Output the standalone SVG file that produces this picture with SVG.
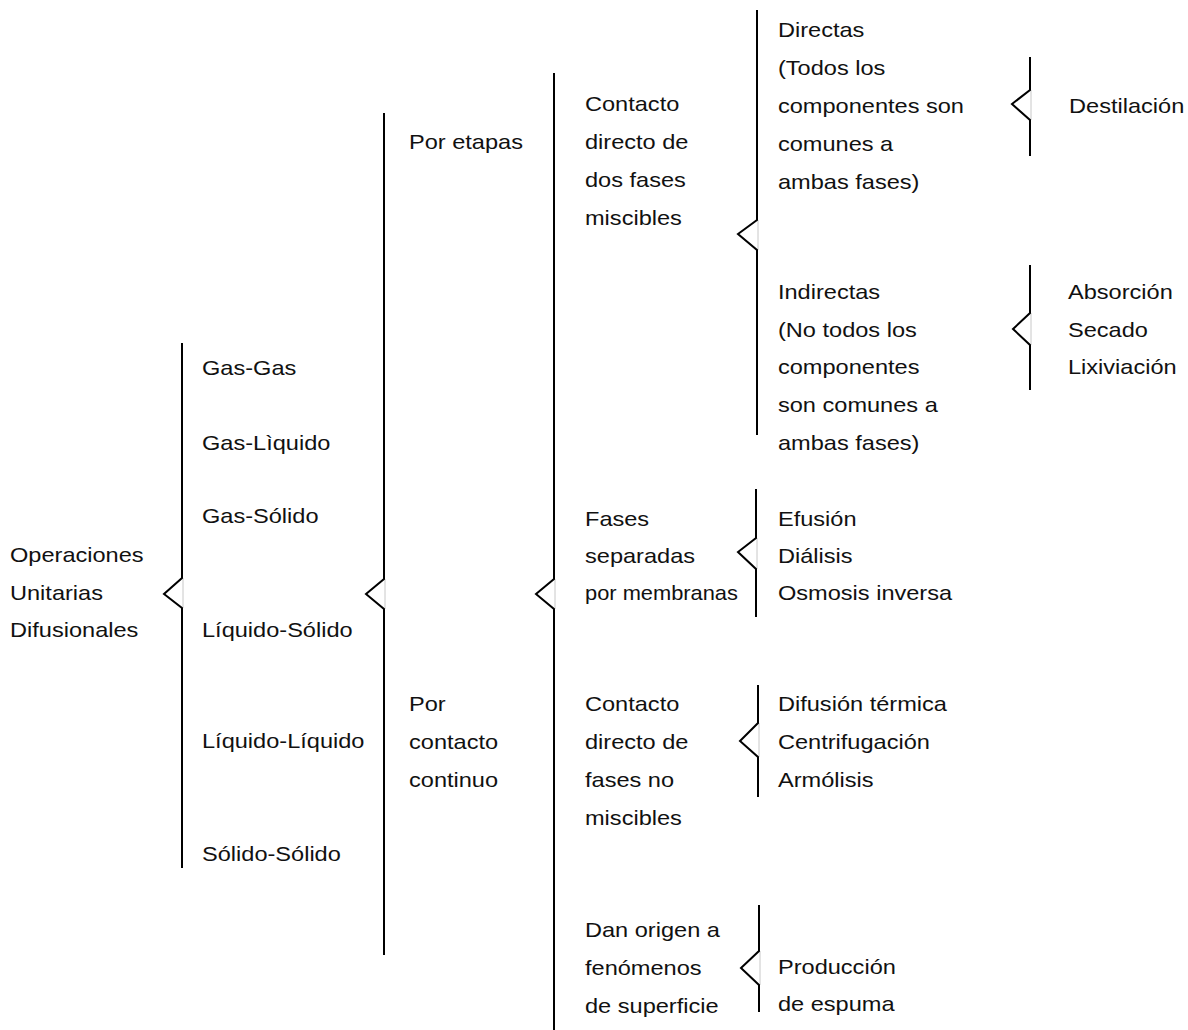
<svg xmlns="http://www.w3.org/2000/svg" width="1188" height="1030" viewBox="0 0 1188 1030">
<style>
.t { font-family: "Liberation Sans", Arial, sans-serif; font-size: 20.5px; fill: #111; }
.b { fill: none; stroke: #000; stroke-width: 2; stroke-linejoin: miter; }
.g { stroke: #c8c8c8; stroke-width: 1; }
</style>
<rect width="1188" height="1030" fill="#fff"/>
<g id="connectors">
  <g id="brace-root">
    <line class="g" x1="183" y1="578" x2="183" y2="608"/>
    <path class="b" d="M182,343 V578 L164,594 L182,608 V868"/>
  </g>
  <g id="brace-fases">
    <line class="g" x1="385" y1="579" x2="385" y2="609"/>
    <path class="b" d="M384,113 V579 L366,594 L384,609 V955"/>
  </g>
  <g id="brace-tipo">
    <line class="g" x1="555" y1="579" x2="555" y2="609"/>
    <path class="b" d="M554,73 V579 L536,594 L554,609 V1030"/>
  </g>
  <g id="brace-miscibles">
    <line class="g" x1="758" y1="220" x2="758" y2="250"/>
    <path class="b" d="M757,10 V220 L738,234 L757,250 V435"/>
  </g>
  <g id="brace-directas">
    <line class="g" x1="1031" y1="90" x2="1031" y2="120"/>
    <path class="b" d="M1030,57 V90 L1012,104 L1030,120 V156"/>
  </g>
  <g id="brace-indirectas">
    <line class="g" x1="1031" y1="313" x2="1031" y2="345"/>
    <path class="b" d="M1030,265 V313 L1013,329 L1030,345 V390"/>
  </g>
  <g id="brace-membranas">
    <line class="g" x1="757" y1="538" x2="757" y2="569"/>
    <path class="b" d="M756,489 V538 L738,552 L756,569 V617"/>
  </g>
  <g id="brace-nomiscibles">
    <line class="g" x1="759" y1="723" x2="759" y2="757"/>
    <path class="b" d="M758,685 V723 L740,741 L758,757 V797"/>
  </g>
  <g id="brace-superficie">
    <line class="g" x1="760" y1="951" x2="760" y2="985"/>
    <path class="b" d="M759,905 V951 L741,968 L759,985 V1012"/>
  </g>
</g>
<g transform="scale(1.15 1)">
  <g id="n-root">
    <text class="t" x="8.7" y="562">Operaciones</text>
    <text class="t" x="8.7" y="600">Unitarias</text>
    <text class="t" x="8.7" y="637">Difusionales</text>
  </g>
  <g id="n-gasgas"><text class="t" x="175.65" y="375">Gas-Gas</text></g>
  <g id="n-gasliq"><text class="t" x="175.65" y="450">Gas-Lìquido</text></g>
  <g id="n-gassol"><text class="t" x="175.65" y="523">Gas-Sólido</text></g>
  <g id="n-liqsol"><text class="t" x="175.65" y="637">Líquido-Sólido</text></g>
  <g id="n-liqliq"><text class="t" x="175.65" y="748">Líquido-Líquido</text></g>
  <g id="n-solsol"><text class="t" x="175.65" y="861">Sólido-Sólido</text></g>

  <g id="n-etapas"><text class="t" x="355.65" y="149">Por etapas</text></g>
  <g id="n-continuo">
    <text class="t" x="355.65" y="711">Por</text>
    <text class="t" x="355.65" y="749">contacto</text>
    <text class="t" x="355.65" y="787">continuo</text>
  </g>

  <g id="n-miscibles">
    <text class="t" x="508.7" y="111">Contacto</text>
    <text class="t" x="508.7" y="149">directo de</text>
    <text class="t" x="508.7" y="187">dos fases</text>
    <text class="t" x="508.7" y="225">miscibles</text>
  </g>
  <g id="n-membranas">
    <text class="t" x="508.7" y="526">Fases</text>
    <text class="t" x="508.7" y="563">separadas</text>
    <text class="t" x="508.7" y="600" textLength="133" lengthAdjust="spacingAndGlyphs">por membranas</text>
  </g>
  <g id="n-nomiscibles">
    <text class="t" x="508.7" y="711">Contacto</text>
    <text class="t" x="508.7" y="749">directo de</text>
    <text class="t" x="508.7" y="787">fases no</text>
    <text class="t" x="508.7" y="825">miscibles</text>
  </g>
  <g id="n-superficie">
    <text class="t" x="508.7" y="937">Dan origen a</text>
    <text class="t" x="508.7" y="975">fenómenos</text>
    <text class="t" x="508.7" y="1013">de superficie</text>
  </g>

  <g id="n-directas">
    <text class="t" x="676.5" y="37">Directas</text>
    <text class="t" x="676.5" y="75">(Todos los</text>
    <text class="t" x="676.5" y="113">componentes son</text>
    <text class="t" x="676.5" y="151">comunes a</text>
    <text class="t" x="676.5" y="189">ambas fases)</text>
  </g>
  <g id="n-indirectas">
    <text class="t" x="676.5" y="299">Indirectas</text>
    <text class="t" x="676.5" y="337">(No todos los</text>
    <text class="t" x="676.5" y="374">componentes</text>
    <text class="t" x="676.5" y="412">son comunes a</text>
    <text class="t" x="676.5" y="450">ambas fases)</text>
  </g>
  <g id="n-membranas-ops">
    <text class="t" x="676.5" y="526">Efusión</text>
    <text class="t" x="676.5" y="563">Diálisis</text>
    <text class="t" x="676.5" y="600">Osmosis inversa</text>
  </g>
  <g id="n-nomiscibles-ops">
    <text class="t" x="676.5" y="711">Difusión térmica</text>
    <text class="t" x="676.5" y="749">Centrifugación</text>
    <text class="t" x="676.5" y="787">Armólisis</text>
  </g>
  <g id="n-superficie-ops">
    <text class="t" x="676.5" y="974">Producción</text>
    <text class="t" x="676.5" y="1011">de espuma</text>
  </g>

  <g id="n-destilacion"><text class="t" x="929.6" y="113">Destilación</text></g>
  <g id="n-indirectas-ops">
    <text class="t" x="928.7" y="299">Absorción</text>
    <text class="t" x="928.7" y="337">Secado</text>
    <text class="t" x="928.7" y="374">Lixiviación</text>
  </g>
</g>
</svg>
